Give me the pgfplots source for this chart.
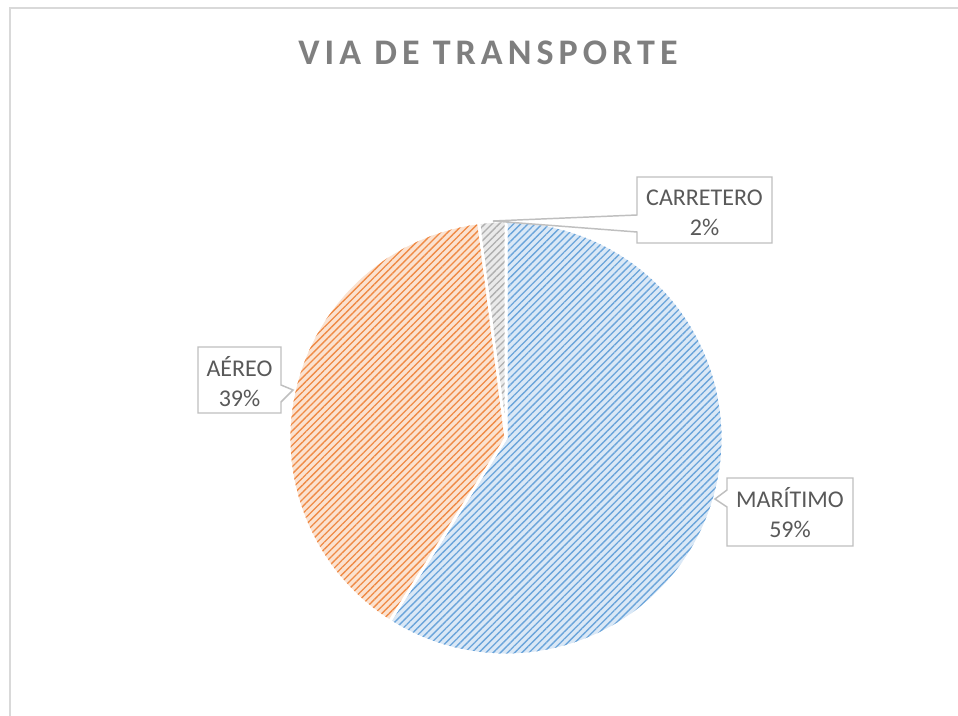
\documentclass[border=0pt]{standalone}
\usepackage{pgfplots}
\pgfplotsset{compat=1.18}
\usepackage{fontspec}
\setmainfont{Carlito}
\newfontfamily\titlefont[LetterSpace=14]{Carlito}
\usetikzlibrary{patterns.meta}
\definecolor{blueS}{HTML}{6AA4DA}
\definecolor{blueF}{HTML}{DAE8F6}
\definecolor{orangeS}{HTML}{EF8A45}
\definecolor{orangeF}{HTML}{FBE2D0}
\definecolor{grayS}{HTML}{AFAFAF}
\definecolor{grayF}{HTML}{EAEAEA}
\definecolor{txt}{HTML}{595959}
\definecolor{ttl}{HTML}{7F7F7F}
\definecolor{boxc}{HTML}{BFBFBF}
\definecolor{framec}{HTML}{D9D9D9}
% data (percent)
\def\vMar{59}
\def\vAer{39}
\def\vCar{2}
\pgfmathsetmacro{\aMar}{90-\vMar*3.6}
\pgfmathsetmacro{\aAer}{\aMar-\vAer*3.6}
\pgfmathsetmacro{\aCar}{\aAer-\vCar*3.6}
\begin{document}
\begin{tikzpicture}
\useasboundingbox (0,0) rectangle (718.5pt,537pt);
\fill[white] (0,0) rectangle (718.5pt,537pt);
\begin{axis}[at={(0,0)}, anchor=south west, scale only axis,
  width=718.5pt, height=537pt, xmin=0, xmax=958, ymin=0, ymax=716,
  y dir=reverse, hide axis, clip=false]
\draw[framec, line width=1.5pt] (axis cs:9.5,8.5) rectangle (axis cs:1000,760);
% slices
\addplot[draw=white, line width=2pt, preaction={fill=blueF},
  pattern={Lines[angle=45,distance=3.8pt,line width=1pt]}, pattern color=blueS,
  domain=\aMar:90, samples=120, variable=\t]
  ({506+217*cos(\t)},{438-217*sin(\t)}) -- (axis cs:506,438) -- cycle;
\addplot[draw=white, line width=2pt, preaction={fill=orangeF},
  pattern={Lines[angle=45,distance=3.8pt,line width=1pt]}, pattern color=orangeS,
  domain=\aAer:\aMar, samples=100, variable=\t]
  ({506+217*cos(\t)},{438-217*sin(\t)}) -- (axis cs:506,438) -- cycle;
\addplot[draw=white, line width=2pt, preaction={fill=grayF},
  pattern={Lines[angle=45,distance=3.8pt,line width=1pt]}, pattern color=grayS,
  domain=\aCar:\aAer, samples=10, variable=\t]
  ({506+217*cos(\t)},{438-217*sin(\t)}) -- (axis cs:506,438) -- cycle;
% callouts
\draw[boxc, line width=1.1pt, fill=white] (axis cs:637,177) -- (axis cs:772,177) -- (axis cs:772,243) -- (axis cs:637,243) -- (axis cs:637,232) -- (axis cs:493,221) -- (axis cs:637,215) -- cycle;
\draw[boxc, line width=1.1pt, fill=white] (axis cs:198,347) -- (axis cs:281,347) -- (axis cs:281,385) -- (axis cs:293,390) -- (axis cs:281,402) -- (axis cs:281,413) -- (axis cs:198,413) -- cycle;
\draw[boxc, line width=1.1pt, fill=white] (axis cs:727,478) -- (axis cs:853,478) -- (axis cs:853,546) -- (axis cs:727,546) -- (axis cs:727,507) -- (axis cs:715,499) -- (axis cs:727,490) -- cycle;
\node[font=\fontsize{18}{22.5}\selectfont, text=txt, align=center] at (axis cs:704.5,213) {CARRETERO\\\vCar\%};
\node[font=\fontsize{18}{22.5}\selectfont, text=txt, align=center] at (axis cs:239.5,382) {AÉREO\\\vAer\%};
\node[font=\fontsize{18}{22.5}\selectfont, text=txt, align=center] at (axis cs:790,513) {MARÍTIMO\\\vMar\%};
% title
\node[font=\titlefont\bfseries\fontsize{27}{32}\selectfont, text=ttl] at (axis cs:488,53) {VIA DE TRANSPORTE};
\end{axis}
\end{tikzpicture}
\end{document}
